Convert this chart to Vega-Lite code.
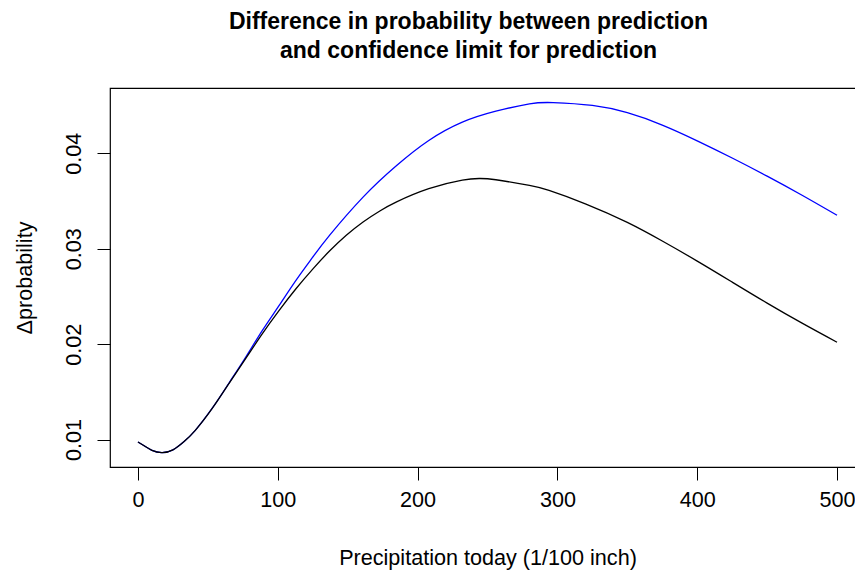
{
  "$schema": "https://vega.github.io/schema/vega-lite/v6.json",
  "width": 755,
  "height": 379,
  "autosize": {"type": "none"},
  "padding": {"left": 110, "top": 88, "right": 0, "bottom": 106},
  "background": "white",
  "title": {
    "text": ["Difference in probability between prediction", "and confidence limit for prediction"],
    "font": "Liberation Sans",
    "fontSize": 23,
    "fontWeight": "bold",
    "color": "black",
    "anchor": "middle",
    "dx": -19,
    "offset": 25,
    "lineHeight": 29
  },
  "config": {
    "font": "Liberation Sans",
    "view": {"stroke": "black", "strokeWidth": 1.2},
    "axis": {
      "grid": false,
      "domain": false,
      "ticks": true,
      "tickSize": 13,
      "tickColor": "black",
      "tickWidth": 1,
      "labelFont": "Liberation Sans",
      "labelFontSize": 21.6,
      "labelColor": "black",
      "titleFont": "Liberation Sans",
      "titleFontSize": 21.6,
      "titleFontWeight": "normal",
      "titleColor": "black"
    }
  },
  "data": {
    "values": [
      {"precip": 0, "delta": 0.00975, "limit": "upper"},
      {"precip": 5, "delta": 0.0093, "limit": "upper"},
      {"precip": 10, "delta": 0.00888, "limit": "upper"},
      {"precip": 17, "delta": 0.00864, "limit": "upper"},
      {"precip": 25, "delta": 0.00893, "limit": "upper"},
      {"precip": 33, "delta": 0.0098, "limit": "upper"},
      {"precip": 41, "delta": 0.01097, "limit": "upper"},
      {"precip": 53, "delta": 0.01326, "limit": "upper"},
      {"precip": 65, "delta": 0.0159, "limit": "upper"},
      {"precip": 77, "delta": 0.01862, "limit": "upper"},
      {"precip": 89, "delta": 0.02144, "limit": "upper"},
      {"precip": 101, "delta": 0.02406, "limit": "upper"},
      {"precip": 113, "delta": 0.02668, "limit": "upper"},
      {"precip": 125, "delta": 0.02911, "limit": "upper"},
      {"precip": 137, "delta": 0.03139, "limit": "upper"},
      {"precip": 161, "delta": 0.0354, "limit": "upper"},
      {"precip": 185, "delta": 0.03871, "limit": "upper"},
      {"precip": 208, "delta": 0.04133, "limit": "upper"},
      {"precip": 232, "delta": 0.04325, "limit": "upper"},
      {"precip": 256, "delta": 0.0444, "limit": "upper"},
      {"precip": 280, "delta": 0.04517, "limit": "upper"},
      {"precip": 297, "delta": 0.0453, "limit": "upper"},
      {"precip": 325, "delta": 0.045, "limit": "upper"},
      {"precip": 350, "delta": 0.04424, "limit": "upper"},
      {"precip": 375, "delta": 0.04295, "limit": "upper"},
      {"precip": 400, "delta": 0.0413, "limit": "upper"},
      {"precip": 425, "delta": 0.0395, "limit": "upper"},
      {"precip": 450, "delta": 0.0376, "limit": "upper"},
      {"precip": 475, "delta": 0.0356, "limit": "upper"},
      {"precip": 500, "delta": 0.0335, "limit": "upper"},
      {"precip": 0, "delta": 0.00975, "limit": "lower"},
      {"precip": 5, "delta": 0.0093, "limit": "lower"},
      {"precip": 10, "delta": 0.00888, "limit": "lower"},
      {"precip": 17, "delta": 0.00864, "limit": "lower"},
      {"precip": 25, "delta": 0.00893, "limit": "lower"},
      {"precip": 33, "delta": 0.0098, "limit": "lower"},
      {"precip": 41, "delta": 0.01097, "limit": "lower"},
      {"precip": 53, "delta": 0.01324, "limit": "lower"},
      {"precip": 65, "delta": 0.01586, "limit": "lower"},
      {"precip": 77, "delta": 0.01848, "limit": "lower"},
      {"precip": 89, "delta": 0.0211, "limit": "lower"},
      {"precip": 101, "delta": 0.02354, "limit": "lower"},
      {"precip": 113, "delta": 0.0258, "limit": "lower"},
      {"precip": 125, "delta": 0.02786, "limit": "lower"},
      {"precip": 137, "delta": 0.02975, "limit": "lower"},
      {"precip": 149, "delta": 0.0314, "limit": "lower"},
      {"precip": 161, "delta": 0.0328, "limit": "lower"},
      {"precip": 173, "delta": 0.03395, "limit": "lower"},
      {"precip": 185, "delta": 0.0349, "limit": "lower"},
      {"precip": 208, "delta": 0.03628, "limit": "lower"},
      {"precip": 232, "delta": 0.03718, "limit": "lower"},
      {"precip": 244, "delta": 0.03735, "limit": "lower"},
      {"precip": 256, "delta": 0.03722, "limit": "lower"},
      {"precip": 280, "delta": 0.03662, "limit": "lower"},
      {"precip": 294, "delta": 0.0361, "limit": "lower"},
      {"precip": 320, "delta": 0.0347, "limit": "lower"},
      {"precip": 350, "delta": 0.03275, "limit": "lower"},
      {"precip": 375, "delta": 0.0308, "limit": "lower"},
      {"precip": 400, "delta": 0.0287, "limit": "lower"},
      {"precip": 425, "delta": 0.0265, "limit": "lower"},
      {"precip": 450, "delta": 0.0243, "limit": "lower"},
      {"precip": 475, "delta": 0.0222, "limit": "lower"},
      {"precip": 500, "delta": 0.0202, "limit": "lower"}
    ]
  },
  "mark": {"type": "line", "interpolate": "natural", "strokeWidth": 1.3},
  "encoding": {
    "x": {
      "field": "precip",
      "type": "quantitative",
      "scale": {"domain": [-20, 520], "nice": false, "zero": false},
      "axis": {
        "values": [0, 100, 200, 300, 400, 500],
        "format": "d",
        "labelPadding": 9,
        "labelFlush": false,
        "title": "Precipitation today (1/100 inch)",
        "titlePadding": 37
      }
    },
    "y": {
      "field": "delta",
      "type": "quantitative",
      "scale": {"domain": [0.00713, 0.04683], "nice": false, "zero": false},
      "axis": {
        "values": [0.01, 0.02, 0.03, 0.04],
        "format": ".2f",
        "labelAngle": -90,
        "labelAlign": "center",
        "labelBaseline": "bottom",
        "labelPadding": 12,
        "labelFlush": false,
        "title": "Δprobability",
        "titlePadding": 27
      }
    },
    "color": {
      "field": "limit",
      "type": "nominal",
      "scale": {"domain": ["upper", "lower"], "range": ["#0000FF", "#000000"]},
      "legend": null
    }
  }
}
